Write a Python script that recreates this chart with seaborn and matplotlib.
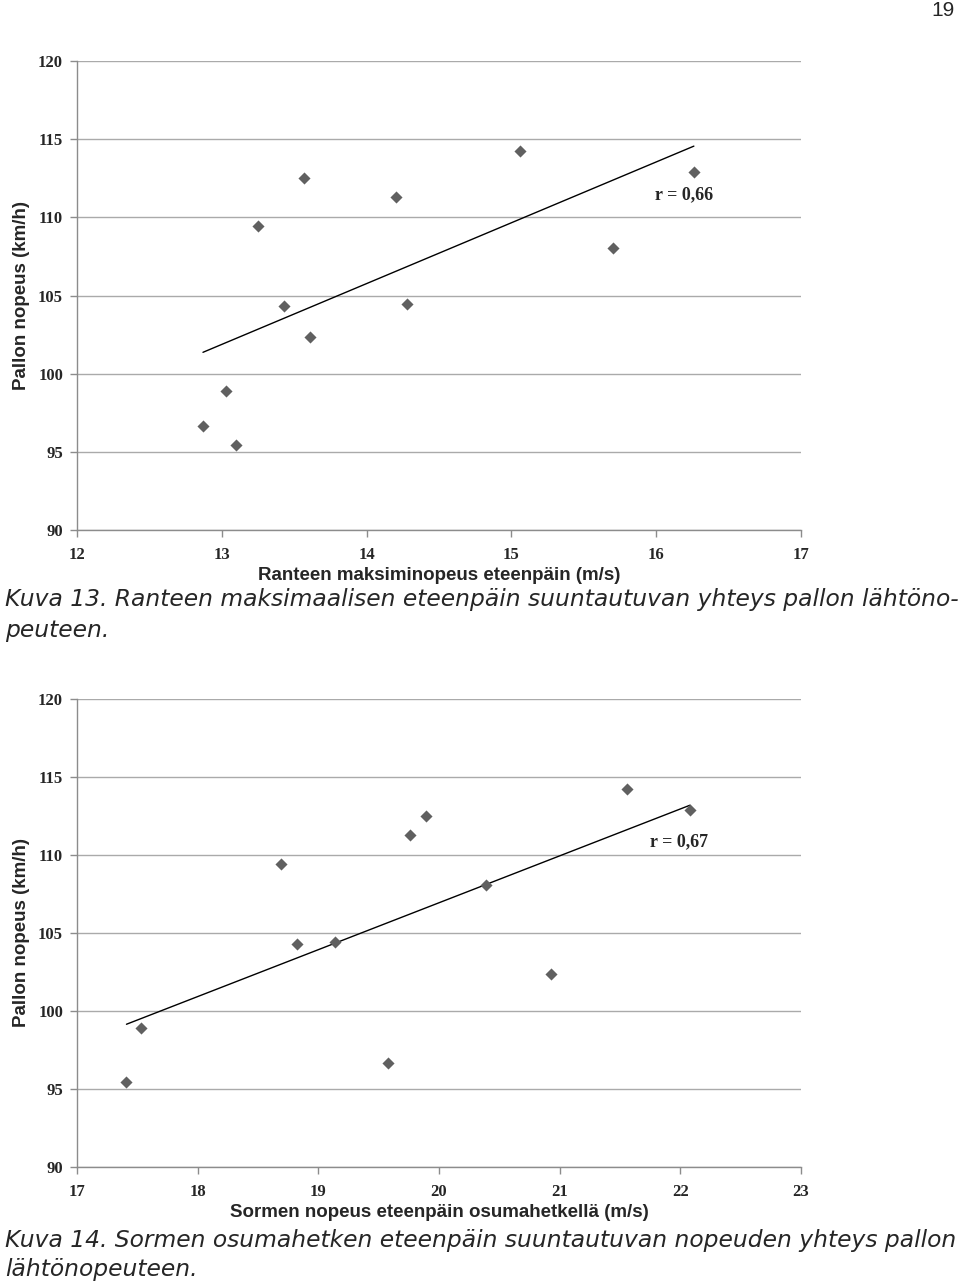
import numpy as np
import pandas as pd
import matplotlib
matplotlib.use('Agg')
import matplotlib.pyplot as plt
import seaborn as sns

# Kuva 13: ranteen maksiminopeus vs. pallon nopeus
ranne_x = [12.87, 13.03, 13.10, 13.25, 13.43, 13.57, 13.61, 14.20, 14.28, 15.06, 15.70, 16.26]
ranne_y = [96.65, 98.9, 95.45, 109.45, 104.3, 112.5, 102.35, 111.3, 104.45, 114.25, 108.05, 112.9]

# Kuva 14: sormen nopeus osumahetkellä vs. pallon nopeus
sormi_x = [17.41, 17.53, 18.69, 18.82, 19.14, 19.58, 19.76, 19.89, 20.39, 20.93, 21.56, 22.08]
sormi_y = [95.45, 98.9, 109.45, 104.3, 104.45, 96.65, 111.3, 112.5, 108.05, 102.35, 114.25, 112.9]

y_ticks = [90, 95, 100, 105, 110, 115, 120]
x_ticks_1 = [12, 13, 14, 15, 16, 17]
x_ticks_2 = [17, 18, 19, 20, 21, 22, 23]

df1 = pd.DataFrame({'x': ranne_x, 'y': ranne_y})
df2 = pd.DataFrame({'x': sormi_x, 'y': sormi_y})

sns.set_style("white")
plt.rcParams['font.family'] = ['Liberation Sans', 'DejaVu Sans']

fig = plt.figure(figsize=(9.6, 12.82), dpi=100)
ax1 = fig.add_axes([0.0802, 0.5866, 0.7542, 0.3658])
ax2 = fig.add_axes([0.0802, 0.0897, 0.7542, 0.3651])

grid_c = '#aaaaaa'
mark_c = '#606060'
tick_font = dict(family='Liberation Serif', weight='bold', size=12)


def piirra(ax, df, xticks, xlabel, r_text, r_pos):
    sns.regplot(x='x', y='y', data=df, ax=ax, scatter=False, ci=None,
                line_kws=dict(color='black', lw=1.0))
    sns.scatterplot(x='x', y='y', data=df, ax=ax, marker='D', s=38,
                    color=mark_c, edgecolor=mark_c, linewidth=0, zorder=3)
    ax.set_xlim(xticks[0], xticks[-1])
    ax.set_ylim(90, 120)
    ax.set_xticks(xticks)
    ax.set_yticks(y_ticks)
    ax.yaxis.grid(True, color=grid_c, lw=1.0)
    ax.set_axisbelow(True)
    for s in ['top', 'right']:
        ax.spines[s].set_visible(False)
    for s in ['left', 'bottom']:
        ax.spines[s].set_color('#8c8c8c')
        ax.spines[s].set_linewidth(1.0)
    ax.tick_params(axis='both', direction='out', length=5, width=1.0,
                   color='#8c8c8c', bottom=True, left=True)
    ax.tick_params(axis='x', pad=7)
    ax.tick_params(axis='y', pad=5)
    for lab in ax.get_xticklabels() + ax.get_yticklabels():
        lab.set_fontproperties(matplotlib.font_manager.FontProperties(**tick_font))
    ax.set_xlabel(xlabel, fontsize=13.5, fontweight='bold', labelpad=3)
    ax.set_ylabel('Pallon nopeus (km/h)', fontsize=13.5, fontweight='bold', labelpad=6)
    ax.text(r_pos[0], r_pos[1], r_text, ha='center', va='center',
            fontsize=13, fontweight='bold', family='Liberation Serif')


piirra(ax1, df1, x_ticks_1, 'Ranteen maksiminopeus eteenpäin (m/s)', 'r = 0,66', (16.19, 111.45))
piirra(ax2, df2, x_ticks_2, 'Sormen nopeus eteenpäin osumahetkellä (m/s)', 'r = 0,67', (21.99, 110.85))

fig.text(0.994, 0.999, '19', ha='right', va='top', fontsize=15)

cap = dict(fontsize=16.8, style='italic', ha='left', va='top', family='DejaVu Sans')
fig.text(0.005, 0.5410, 'Kuva 13. Ranteen maksimaalisen eteenpäin suuntautuvan yhteys pallon lähtöno-', **cap)
fig.text(0.005, 0.5175, 'peuteen.', **cap)
fig.text(0.005, 0.0415, 'Kuva 14. Sormen osumahetken eteenpäin suuntautuvan nopeuden yhteys pallon', **cap)
fig.text(0.005, 0.0190, 'lähtönopeuteen.', **cap)

fig.savefig('out.png', dpi=100)
